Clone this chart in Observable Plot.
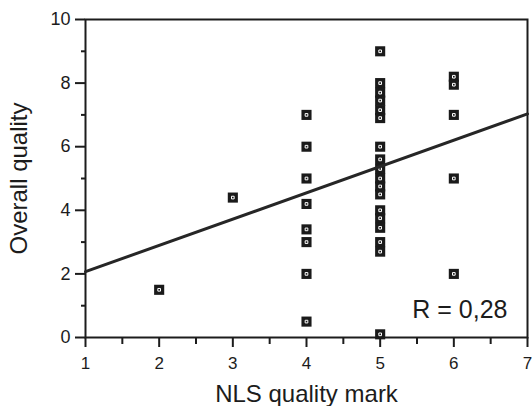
<!DOCTYPE html>
<html>
<head>
<meta charset="utf-8">
<script src="https://cdn.jsdelivr.net/npm/d3@7"></script>
<script src="https://cdn.jsdelivr.net/npm/@observablehq/plot@0.6"></script>
<style>
  html, body { margin: 0; padding: 0; background: #fff; }
  #chart svg { display: block; }
</style>
</head>
<body>
<div id="chart"></div>
<script>
// NLS quality mark (x) and Overall quality (y) for each point
const nlsMark = [
  2,
  3,
  4, 4, 4, 4, 4, 4, 4, 4,
  5, 5, 5, 5, 5, 5, 5, 5, 5, 5, 5, 5, 5, 5, 5, 5, 5, 5,
  6, 6, 6, 6, 6
];
const overallQuality = [
  1.5,
  4.4,
  7, 6, 5, 4.2, 3.4, 3, 2, 0.5,
  9, 8, 7.7, 7.45, 7.15, 6.9, 6, 5.6, 5.3, 5.0, 4.75, 4.5, 4.0, 3.75, 3.45, 3.0, 2.7, 0.1,
  8.2, 7.95, 7, 5, 2
];
// regression line end points
const fitX = [1, 7];
const fitY = [2.07, 7.03];
const rLabel = "R = 0,28";
const xTicks = [1, 2, 3, 4, 5, 6, 7];
const xMinorTicks = [1.5, 2.5, 3.5, 4.5, 5.5, 6.5];
const yTicks = [0, 2, 4, 6, 8, 10];
const yMinorTicks = [1, 3, 5, 7, 9];
const xTitle = "NLS quality mark";
const yTitle = "Overall quality";

const points = nlsMark.map((x, i) => ({x, y: overallQuality[i]}));
const fit = fitX.map((x, i) => ({x, y: fitY[i]}));

const ink = "#1c1c1c";
const font = "'Liberation Sans', Arial, Helvetica, sans-serif";

const chart = Plot.plot({
  width: 532,
  height: 406,
  marginLeft: 85,
  marginRight: 5,
  marginTop: 19,
  marginBottom: 69,
  style: {fontFamily: font, color: ink, background: "#fff"},
  x: {domain: [1, 7]},
  y: {domain: [0, 10]},
  marks: [
    Plot.frame({stroke: ink, strokeWidth: 2}),
    Plot.axisX({ticks: xTicks, tickSize: 10, tickPadding: 9, tickFormat: d => String(d), fontSize: 17, stroke: ink, strokeWidth: 2, strokeOpacity: 1, label: null}),
    Plot.axisX({ticks: xMinorTicks, tickSize: 7, text: null, stroke: ink, strokeWidth: 2, strokeOpacity: 1, label: null}),
    Plot.axisY({ticks: yTicks, tickSize: 10, tickPadding: 5, tickFormat: d => String(d), fontSize: 18, stroke: ink, strokeWidth: 2, strokeOpacity: 1, label: null}),
    Plot.axisY({ticks: yMinorTicks, tickSize: 4, text: null, stroke: ink, strokeWidth: 2, strokeOpacity: 1, label: null}),
    Plot.dot(points, {x: "x", y: "y", symbol: "square", r: 5.7, fill: "#1a1a1a", stroke: "none"}),
    Plot.dot(points, {x: "x", y: "y", symbol: "square", r: 1.5, fill: "none", stroke: "#fff", strokeWidth: 1}),
    Plot.line(fit, {x: "x", y: "y", stroke: "#262626", strokeWidth: 3}),
    Plot.text([rLabel], {frameAnchor: "bottom-right", dx: -20, dy: -20, textAnchor: "end", lineAnchor: "bottom", fontSize: 25, fill: ink}),
    Plot.text([xTitle], {frameAnchor: "bottom", dy: 64, lineAnchor: "bottom", fontSize: 24, fill: ink}),
    Plot.text([yTitle], {frameAnchor: "left", dx: -59, rotate: -90, textAnchor: "middle", lineAnchor: "bottom", fontSize: 24, fill: ink})
  ]
});
document.getElementById("chart").append(chart);
</script>
</body>
</html>
